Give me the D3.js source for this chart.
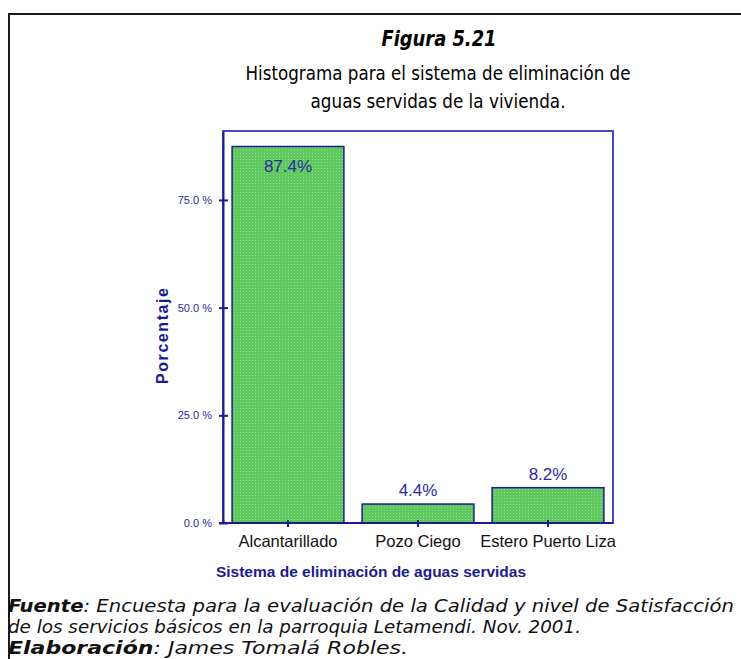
<!DOCTYPE html>
<html>
<head>
<meta charset="utf-8">
<script src="https://cdn.jsdelivr.net/npm/d3@7"></script>
<style>
  body { margin: 0; background: #fff; }
  svg { display: block; }
</style>
</head>
<body>
<div id="chart-area"></div>
<script>
// data
let categories = ["Alcantarillado", "Pozo Ciego", "Estero Puerto Liza"];
let percents = [87.4, 4.4, 8.2];
let yTicks = [0, 25, 50, 75];

let W = 741, H = 659;
let plot = { lft: 223, rht: 613, top: 131, bot: 523 };

let svg = d3.select("#chart-area")
  .append("svg")
    .attr("width", W)
    .attr("height", H);

// dotted green fill
let pat = svg.append("defs").append("pattern")
  .attr("id", "dots")
  .attr("width", 3).attr("height", 3)
  .attr("patternUnits", "userSpaceOnUse");
pat.append("rect").attr("width", 3).attr("height", 3).attr("fill", "#5ec85a");
pat.append("rect").attr("width", 1).attr("height", 1).attr("fill", "#8fd9a8");

// outer frame
svg.append("rect")
  .attr("x", 9).attr("y", 14)
  .attr("width", W + 10).attr("height", H + 10)
  .attr("fill", "none")
  .attr("stroke", "#1a1a1a")
  .attr("stroke-width", 2);

// titles (slightly condensed, the original font is narrower)
svg.append("text")
  .attr("x", 439).attr("y", 46)
  .attr("text-anchor", "middle")
  .attr("font-family", "DejaVu Sans")
  .attr("font-weight", "bold")
  .attr("font-style", "italic")
  .attr("font-size", "21px")
  .attr("textLength", 115)
  .attr("lengthAdjust", "spacingAndGlyphs")
  .text("Figura 5.21");

let sub = ["Histograma para el sistema de eliminación de", "aguas servidas de la vivienda."];
let subLen = [385, 255];
svg.selectAll(".sub")
  .data(sub)
  .enter().append("text")
    .attr("class", "sub")
    .attr("x", 438)
    .attr("y", (d, i) => 80 + i * 28)
    .attr("text-anchor", "middle")
    .attr("font-family", "DejaVu Sans")
    .attr("font-size", "19px")
    .attr("textLength", (d, i) => subLen[i])
    .attr("lengthAdjust", "spacingAndGlyphs")
    .text(d => d);

// scales
let x = d3.scaleBand()
  .domain(categories)
  .range([plot.lft, plot.rht])
  .paddingInner(0.14)
  .paddingOuter(0.07);

let y = d3.scaleLinear()
  .domain([0, 91])
  .range([plot.bot, plot.top]);

let data = categories.map((c, i) => ({ cat: c, pct: percents[i] }));

// plot frame
svg.append("rect")
  .attr("x", plot.lft).attr("y", plot.top)
  .attr("width", plot.rht - plot.lft)
  .attr("height", plot.bot - plot.top)
  .attr("fill", "none")
  .attr("stroke", "#4b4bc4")
  .attr("stroke-width", 2);

// bars
svg.selectAll(".bar")
  .data(data)
  .enter().append("rect")
    .attr("class", "bar")
    .attr("x", d => x(d.cat))
    .attr("y", d => y(d.pct))
    .attr("width", x.bandwidth())
    .attr("height", d => y(0) - y(d.pct))
    .attr("fill", "url(#dots)")
    .attr("stroke", "#1c1c8c")
    .attr("stroke-width", 1.5);

// axes
let yAxisCall = d3.axisLeft(y)
  .tickValues(yTicks)
  .tickSize(0)
  .tickPadding(11)
  .tickFormat(d => d3.format(".1f")(d) + " %");
let yAx = svg.append("g")
  .attr("transform", `translate(${plot.lft}, 0)`)
  .call(yAxisCall);
yAx.select(".domain").attr("stroke", "#1c1c8c").attr("stroke-width", 2);
yAx.selectAll(".tick text")
  .attr("fill", "#2a2aa0")
  .attr("font-family", "Liberation Sans")
  .attr("font-size", "11px");
yAx.selectAll(".tick").append("line")
  .attr("x1", -4).attr("x2", 5)
  .attr("stroke", "#1c1c8c")
  .attr("stroke-width", 2);

let xAxisCall = d3.axisBottom(x).tickSize(0).tickPadding(12);
let xAx = svg.append("g")
  .attr("transform", `translate(0, ${plot.bot})`)
  .call(xAxisCall);
xAx.select(".domain")
  .attr("d", `M${plot.lft - 4},0H${plot.rht}`)
  .attr("stroke", "#1c1c8c").attr("stroke-width", 2);
xAx.selectAll(".tick text")
  .attr("fill", "#111")
  .attr("font-family", "Liberation Sans")
  .attr("font-size", "16.5px");
xAx.selectAll(".tick").append("line")
  .attr("y1", -3).attr("y2", 4)
  .attr("stroke", "#1c1c8c")
  .attr("stroke-width", 2);

// value labels
svg.selectAll(".val")
  .data(data)
  .enter().append("text")
    .attr("class", "val")
    .attr("x", d => x(d.cat) + x.bandwidth() / 2)
    .attr("y", d => d.pct > 50 ? y(d.pct) + 25 : y(d.pct) - 8)
    .attr("text-anchor", "middle")
    .attr("fill", "#2a2aa0")
    .attr("font-family", "Liberation Sans")
    .attr("font-size", "17px")
    .text(d => d3.format(".1f")(d.pct) + "%");

// axis labels
svg.append("text")
  .attr("transform", `translate(168, 336) rotate(-90)`)
  .attr("text-anchor", "middle")
  .attr("fill", "#1c1c8c")
  .attr("font-family", "Liberation Sans")
  .attr("font-weight", "bold")
  .attr("font-size", "16px")
  .attr("textLength", 96)
  .attr("lengthAdjust", "spacing")
  .text("Porcentaje");

svg.append("text")
  .attr("x", 371).attr("y", 577)
  .attr("text-anchor", "middle")
  .attr("fill", "#1c1c8c")
  .attr("font-family", "Liberation Sans")
  .attr("font-weight", "bold")
  .attr("font-size", "15.5px")
  .text("Sistema de eliminación de aguas servidas");

// footer
let foot = svg.append("g")
  .attr("font-family", "DejaVu Sans")
  .attr("font-style", "italic")
  .attr("font-size", "17.5px")
  .attr("fill", "#111");
let f1 = foot.append("text").attr("x", 8).attr("y", 612)
  .attr("textLength", 726).attr("lengthAdjust", "spacingAndGlyphs");
f1.append("tspan").attr("font-weight", "bold").text("Fuente");
f1.append("tspan").text(": Encuesta para la evaluación de la Calidad y nivel de Satisfacción");
foot.append("text").attr("x", 8).attr("y", 633)
  .attr("textLength", 573).attr("lengthAdjust", "spacingAndGlyphs")
  .text("de los servicios básicos en la parroquia Letamendi. Nov. 2001.");
let f3 = foot.append("text").attr("x", 8).attr("y", 654)
  .attr("textLength", 400).attr("lengthAdjust", "spacingAndGlyphs");
f3.append("tspan").attr("font-weight", "bold").text("Elaboración");
f3.append("tspan").text(": James Tomalá Robles.");
</script>
</body>
</html>
